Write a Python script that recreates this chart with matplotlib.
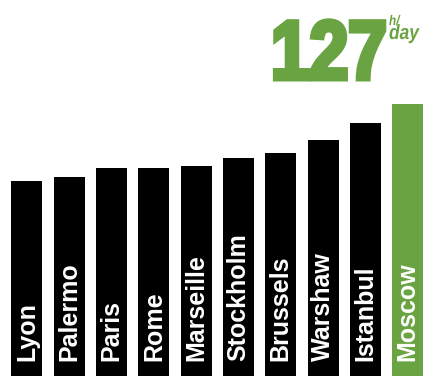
import matplotlib.pyplot as plt
import matplotlib.patheffects as pe
from matplotlib.transforms import Affine2D

cities = ['Lyon', 'Palermo', 'Paris', 'Rome', 'Marseille',
          'Stockholm', 'Brussels', 'Warshaw', 'Istanbul', 'Moscow']
hours = [91, 93, 97, 97, 98, 102, 104, 110, 118, 127]
bar_colors = ['black'] * 9 + ['#69a342']
headline = '127'
unit_top = 'h/'
unit_bottom = 'day'

green = '#69a342'
W, H = 438, 383


class Tall(pe.AbstractPathEffect):
    # stretch glyphs vertically around baseline y0 (pixels from bottom),
    # gives the tall condensed look; optional stroke makes it heavier
    def __init__(self, sy, y0, stroke=0):
        super().__init__()
        self.sy = sy
        self.y0 = y0
        self.stroke = stroke

    def draw_path(self, renderer, gc, tpath, affine, rgbFace=None):
        tall = Affine2D().translate(0, -self.y0).scale(1, self.sy).translate(0, self.y0)
        renderer.draw_path(gc, tpath, affine + tall, rgbFace)
        if self.stroke:
            gc0 = renderer.new_gc()
            gc0.copy_properties(gc)
            gc0.set_linewidth(self.stroke)
            gc0.set_foreground(rgbFace)
            gc0.set_joinstyle('miter')
            renderer.draw_path(gc0, tpath, affine + tall, rgbFace)
            gc0.restore()


fig = plt.figure(figsize=(W / 100, H / 100), dpi=100)
ax = fig.add_axes([0, 0, 1, 1])
ax.axis('off')

x = list(range(len(cities)))
ax.bar(x, hours, width=0.733, color=bar_colors)
ax.set_xlim(-0.638, 9.716)
ax.set_ylim(-3.27, 175.6)

# city names written inside the bars
for i, name in enumerate(cities):
    ax.text(i, 7.0, name, rotation=90, ha='center', va='bottom',
            color='white', fontsize=18, fontweight='bold',
            family=['Liberation Sans', 'DejaVu Sans'])

# big number in the corner
fig.text(271 / W, 1 - 79 / H, headline, color=green, fontsize=50,
         fontweight='bold', family=['Liberation Sans', 'DejaVu Sans'],
         ha='left', va='baseline', path_effects=[Tall(1.2, H - 79, stroke=3.6)])
fig.text(389 / W, 1 - 25 / H, unit_top, color=green, fontsize=8.5,
         fontweight='bold', style='italic', family=['Liberation Sans', 'DejaVu Sans'],
         ha='left', va='baseline', path_effects=[Tall(1.18, H - 25)])
fig.text(389 / W, 1 - 39 / H, unit_bottom, color=green, fontsize=12.5,
         fontweight='bold', style='italic', family=['Liberation Sans', 'DejaVu Sans'],
         ha='left', va='baseline', path_effects=[Tall(1.18, H - 39)])

fig.savefig('out.png', dpi=100)
